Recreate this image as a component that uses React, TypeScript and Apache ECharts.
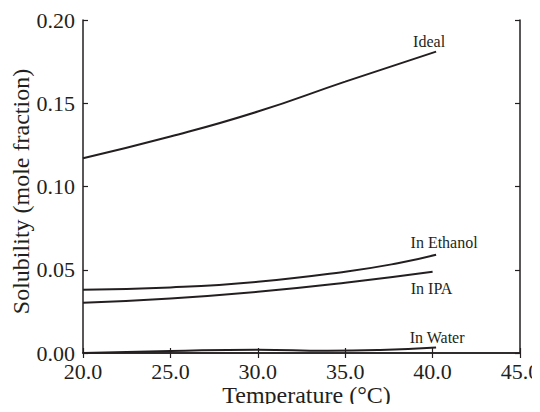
import React, { useEffect, useRef } from "react";
import * as echarts from "echarts";

// Solubility (mole fraction) vs temperature (°C)
const idealData: [number, number][] = [
  [20, 0.117],
  [25, 0.13],
  [30, 0.145],
  [35, 0.163],
  [40.2, 0.181],
];
const ethanolData: [number, number][] = [
  [20, 0.038],
  [25, 0.0394],
  [30, 0.0428],
  [35, 0.0488],
  [38, 0.0539],
  [40.2, 0.059],
];
const ipaData: [number, number][] = [
  [20, 0.0302],
  [25, 0.0328],
  [30, 0.0368],
  [35, 0.0422],
  [40, 0.0488],
];
const waterData: [number, number][] = [
  [20, 0.0],
  [25, 0.0012],
  [30, 0.002],
  [34, 0.0013],
  [37, 0.0018],
  [40.2, 0.0033],
];

const seriesNames = ["Ideal", "In Ethanol", "In IPA", "In Water"];
const xTitle = "Temperature (°C)";
const yTitle = "Solubility (mole fraction)";

const INK = "#231f20";
const FONT = "'Liberation Serif', 'DejaVu Serif', serif";

function endTag(data: [number, number][], text: string, offset: [number, number]) {
  const last = data[data.length - 1];
  return {
    symbol: "circle",
    symbolSize: 1,
    silent: true,
    itemStyle: { color: "rgba(0,0,0,0)" },
    label: {
      show: true,
      position: "inside",
      formatter: text,
      offset,
      color: INK,
      fontFamily: FONT,
      fontSize: 16,
    },
    data: [{ coord: last }],
  };
}

export default function App() {
  const ref = useRef<HTMLDivElement>(null);

  useEffect(() => {
    if (!ref.current) return;
    const chart = echarts.init(ref.current, undefined, { renderer: "svg" });

    const lineSeries = (name: string, data: [number, number][], tag: any) => ({
      name,
      type: "line",
      data,
      smooth: true,
      showSymbol: false,
      symbol: "none",
      lineStyle: { color: INK, width: 2 },
      markPoint: tag,
    });

    const axisCommon = {
      axisLine: { show: true, lineStyle: { color: INK, width: 1.5 } },
      axisTick: { show: true, inside: true, length: 5, lineStyle: { color: INK, width: 1.2 } },
      splitLine: { show: false },
    };

    chart.setOption({
      animation: false,
      backgroundColor: "#ffffff",
      grid: { left: 83, right: 20, top: 20, bottom: 59, containLabel: false, outerBoundsMode: "none" },
      xAxis: [
        {
          type: "value",
          min: 20,
          max: 45,
          interval: 5,
          position: "bottom",
          ...axisCommon,
          axisLabel: {
            color: INK,
            fontFamily: FONT,
            fontSize: 22,
            lineHeight: 20,
            margin: 8,
            formatter: (v: number) => v.toFixed(1),
          },
          name: xTitle,
          nameLocation: "middle",
          nameGap: 31,
          nameMoveOverlap: false,
          nameTextStyle: {
            color: INK,
            fontFamily: FONT,
            fontSize: 24,
            lineHeight: 22,
            padding: [0, 0, 0, 10],
          },
        },
        {
          type: "value",
          min: 20,
          max: 45,
          interval: 5,
          position: "top",
          ...axisCommon,
          axisLabel: { show: false },
        },
      ],
      yAxis: [
        {
          type: "value",
          min: 0,
          max: 0.2,
          interval: 0.05,
          position: "left",
          ...axisCommon,
          axisLabel: {
            color: INK,
            fontFamily: FONT,
            fontSize: 22,
            lineHeight: 14,
            margin: 8,
            formatter: (v: number) => v.toFixed(2),
          },
          name: yTitle,
          nameLocation: "middle",
          nameGap: 50,
          nameMoveOverlap: false,
          nameTextStyle: { color: INK, fontFamily: FONT, fontSize: 24, padding: [0, 10, 0, 0] },
        },
        {
          type: "value",
          min: 0,
          max: 0.2,
          interval: 0.05,
          position: "right",
          ...axisCommon,
          axisLabel: { show: false },
        },
      ],
      series: [
        lineSeries(seriesNames[0], idealData, endTag(idealData, seriesNames[0], [-7, -10])),
        lineSeries(seriesNames[1], ethanolData, endTag(ethanolData, seriesNames[1], [8, -12])),
        lineSeries(seriesNames[2], ipaData, endTag(ipaData, seriesNames[2], [-1, 17])),
        lineSeries(seriesNames[3], waterData, endTag(waterData, seriesNames[3], [1, -10])),
      ],
    });

    return () => chart.dispose();
  }, []);

  return <div ref={ref} style={{ width: 540, height: 412, margin: -8 }} />;
}
